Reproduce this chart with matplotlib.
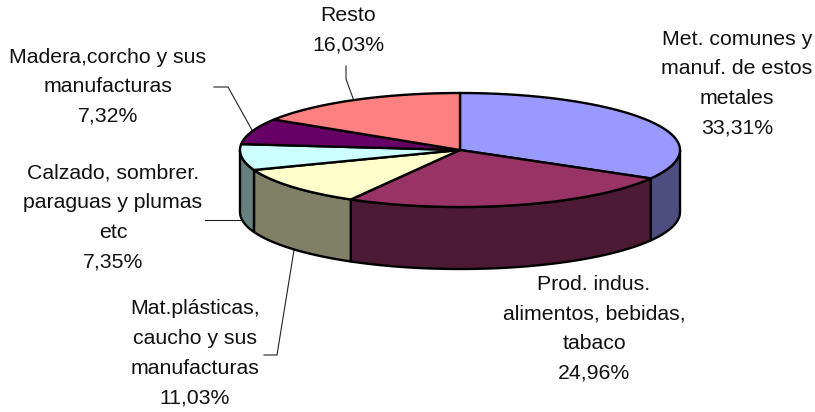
import numpy as np
import matplotlib
matplotlib.use('Agg')
import matplotlib.pyplot as plt
from matplotlib.patches import Polygon

plt.rcParams['font.family'] = ['Liberation Sans', 'DejaVu Sans']

names = [
    ['Met. comunes y', 'manuf. de estos', 'metales'],
    ['Prod. indus.', 'alimentos, bebidas,', 'tabaco'],
    ['Mat.plásticas,', 'caucho y sus', 'manufacturas'],
    ['Calzado, sombrer.', 'paraguas y plumas', 'etc'],
    ['Madera,corcho y sus', 'manufacturas'],
    ['Resto'],
]
values = [33.31, 24.96, 11.03, 7.35, 7.32, 16.03]
top_colors = ['#9999FF', '#993366', '#FFFFCC', '#CCFFFF', '#660066', '#FF8080']
side_colors = ['#4D4D80', '#4D1A33', '#808066', '#668080', '#330033', '#804040']

# where each label block sits (center x, first line y), pixels
label_pos = [(737, 39), (594, 284), (195, 309), (113, 173), (108, 57), (348, 15)]
leaders = [
    None,
    None,
    [(264, 355), (277, 355), (294, 250)],
    [(205, 220), (240, 220)],
    [(214, 87), (228, 87), (252, 130)],
    [(346, 66), (346, 79), (354, 101)],
]

cx, cy = 460, 150
rx, ry = 220, 57
depth = 62
line_step = 29.7

fig = plt.figure(figsize=(8.15, 4.12), dpi=100)
ax = fig.add_axes([0, 0, 1, 1])
ax.set_xlim(0, 815)
ax.set_ylim(412, 0)
ax.axis('off')


def rim(a, b, dy=0):
    t = np.radians(np.linspace(a, b, 80))
    return np.column_stack([cx + rx * np.sin(t), cy + dy - ry * np.cos(t)])


edges = np.concatenate([[0], np.cumsum(values)]) * 3.6

# front wall first, only the part of the rim facing the viewer
for i in range(len(values)):
    a, b = max(edges[i], 90), min(edges[i + 1], 270)
    if a >= b:
        continue
    upper = rim(a, b)
    lower = rim(a, b, depth)[::-1]
    ax.add_patch(Polygon(np.vstack([upper, lower]), closed=True,
                         facecolor=side_colors[i], edgecolor='black',
                         linewidth=1.7, joinstyle='round', zorder=2))

# top face
for i in range(len(values)):
    pts = np.vstack([[[cx, cy]], rim(edges[i], edges[i + 1])])
    ax.add_patch(Polygon(pts, closed=True, facecolor=top_colors[i],
                         edgecolor='black', linewidth=1.7,
                         joinstyle='round', zorder=3))

for line in leaders:
    if line is not None:
        xs, ys = zip(*line)
        ax.plot(xs, ys, color='#222222', linewidth=0.8, zorder=1)

for name, v, (x, y) in zip(names, values, label_pos):
    lines = name + [f'{v:.2f}'.replace('.', ',') + '%']
    for j, txt in enumerate(lines):
        ax.text(x, y + j * line_step, txt, ha='center', va='center',
                fontsize=15.3, color='#111111', zorder=4)

plt.savefig('out.png', dpi=100)
plt.close()
